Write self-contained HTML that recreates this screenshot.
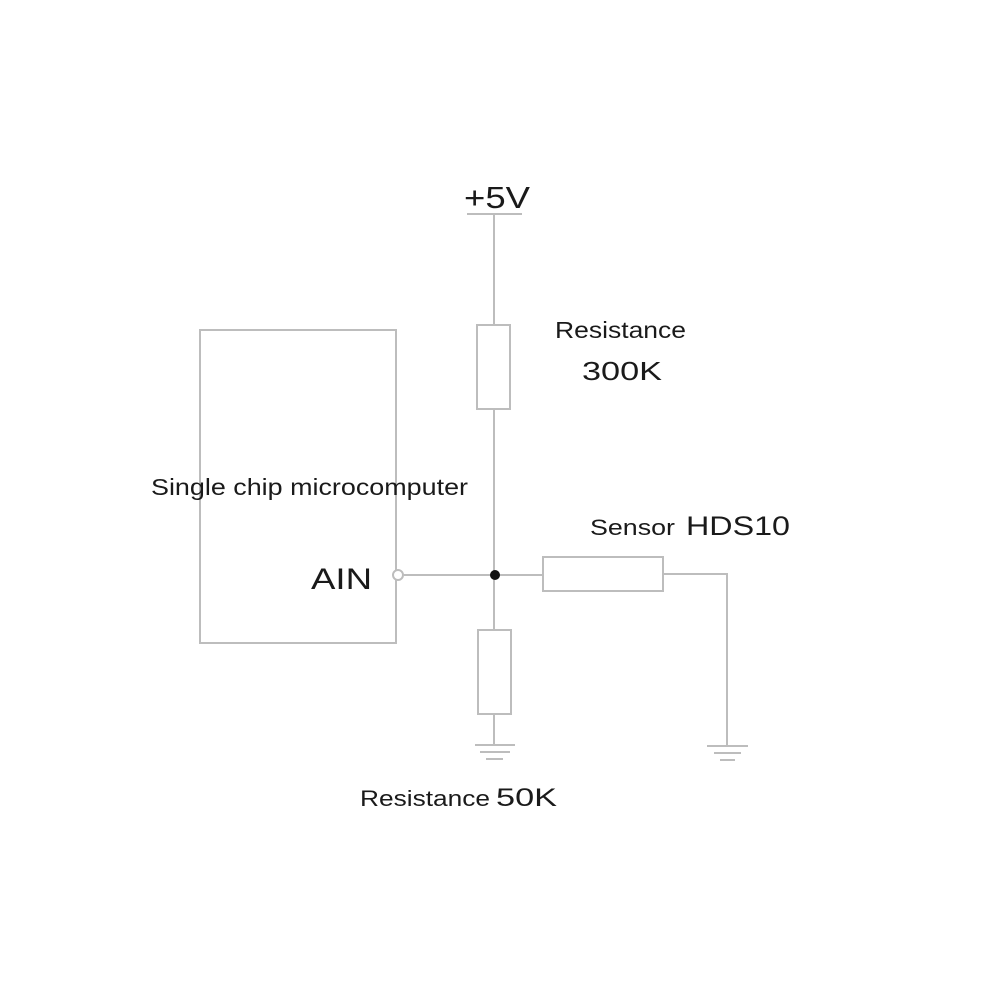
<!DOCTYPE html>
<html><head><style>
html,body{margin:0;padding:0;background:#fff;}
svg{display:block;}
text{font-family:"Liberation Sans",Arial,sans-serif;fill:#1a1a1a;}
</style></head><body>
<svg width="1000" height="1000" viewBox="0 0 1000 1000" xmlns="http://www.w3.org/2000/svg">
<g stroke="#bdbdbd" stroke-width="2" fill="none">
<line x1="467" y1="214" x2="522" y2="214"/>
<line x1="494" y1="214" x2="494" y2="325"/>
<rect x="477" y="325" width="33" height="84" fill="#fff"/>
<line x1="494" y1="409" x2="494" y2="630"/>
<rect x="200" y="330" width="196" height="313"/>
<line x1="404" y1="575" x2="543" y2="575"/>
<rect x="543" y="557" width="120" height="34" fill="#fff"/>
<polyline points="663,574 727,574 727,746"/>
<rect x="478" y="630" width="33" height="84" fill="#fff"/>
<line x1="494" y1="714" x2="494" y2="745"/>
<line x1="475" y1="745" x2="515" y2="745"/>
<line x1="480" y1="752" x2="510" y2="752"/>
<line x1="486" y1="759" x2="503" y2="759"/>
<line x1="707" y1="746" x2="748" y2="746"/>
<line x1="714" y1="753" x2="741" y2="753"/>
<line x1="720" y1="760" x2="735" y2="760"/>
<circle cx="398" cy="575" r="5" fill="#fff"/>
</g>
<circle cx="495" cy="575" r="5" fill="#111"/>
<text x="464" y="208" font-size="31" textLength="66" lengthAdjust="spacingAndGlyphs">+5V</text>
<text x="555" y="338" font-size="23" textLength="131" lengthAdjust="spacingAndGlyphs">Resistance</text>
<text x="582" y="380" font-size="26" textLength="80" lengthAdjust="spacingAndGlyphs">300K</text>
<text x="151" y="495" font-size="23" textLength="317" lengthAdjust="spacingAndGlyphs">Single chip microcomputer</text>
<text x="311" y="589" font-size="30" textLength="61" lengthAdjust="spacingAndGlyphs">AIN</text>
<text x="590" y="535" font-size="22" textLength="85" lengthAdjust="spacingAndGlyphs">Sensor</text>
<text x="686" y="535" font-size="27" textLength="104" lengthAdjust="spacingAndGlyphs">HDS10</text>
<text x="360" y="806" font-size="22" textLength="130" lengthAdjust="spacingAndGlyphs">Resistance</text>
<text x="496" y="806" font-size="25" textLength="61" lengthAdjust="spacingAndGlyphs">50K</text>
</svg>
</body></html>
